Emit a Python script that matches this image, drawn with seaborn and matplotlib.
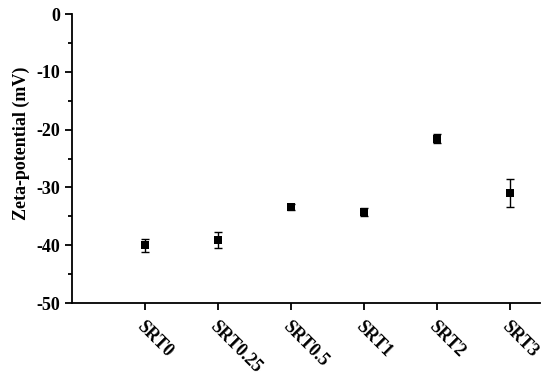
import matplotlib
matplotlib.use("Agg")
import matplotlib.pyplot as plt
import seaborn as sns
import pandas as pd
import numpy as np
from matplotlib.ticker import MultipleLocator

categories = ["SRT0", "SRT0.25", "SRT0.5", "SRT1", "SRT2", "SRT3"]
zeta = [-40.0, -39.1, -33.4, -34.2, -21.6, -31.0]
err = [1.1, 1.4, 0.5, 0.7, 0.8, 2.4]

sns.set_theme(style="ticks")
plt.rcParams['font.family'] = ['Liberation Serif', 'DejaVu Serif']
plt.rcParams['font.weight'] = 'bold'
plt.rcParams['axes.unicode_minus'] = False
for k in ['text.color', 'axes.labelcolor', 'xtick.color', 'ytick.color', 'axes.edgecolor']:
    plt.rcParams[k] = 'black'

df = pd.DataFrame({"pos": np.arange(1, len(categories) + 1), "zeta": zeta, "err": err, "cat": categories})

fig = plt.figure(figsize=(5.5, 3.79), dpi=100)
ax = fig.add_axes([0.131, 0.2005, 0.851, 0.7625])

ax.errorbar(df["pos"], df["zeta"], yerr=df["err"], fmt='none', ecolor='black',
            elinewidth=1, capsize=3, capthick=1, zorder=2)
sns.scatterplot(data=df, x="pos", y="zeta", marker='s', color='black', s=40,
                edgecolor='black', linewidth=0, ax=ax, zorder=3)

ax.set_xlim(0, 6.41)
ax.set_ylim(-50, 0)
ax.set_xticks(df["pos"])
ax.set_xticklabels(categories, rotation=-45, ha='left', va='top', rotation_mode='anchor',
                   fontsize=13, fontweight='bold')
ax.yaxis.set_major_locator(MultipleLocator(10))
ax.yaxis.set_minor_locator(MultipleLocator(5))
ax.tick_params(axis='y', which='major', length=5, width=1.3, labelsize=13, direction='out')
ax.tick_params(axis='y', which='minor', length=3, width=1.3, direction='out')
ax.tick_params(axis='x', which='major', length=5, width=1.3, direction='out', pad=6)
for lab in ax.get_yticklabels():
    lab.set_fontweight('bold')
ax.set_xlabel("")
ax.set_ylabel("Zeta-potential (mV)", fontsize=13, fontweight='bold')
ax.yaxis.set_label_coords(-0.089, 0.554)
for s in ['left', 'bottom']:
    ax.spines[s].set_linewidth(1.3)
sns.despine(ax=ax)

fig.savefig("out.png", dpi=100)
